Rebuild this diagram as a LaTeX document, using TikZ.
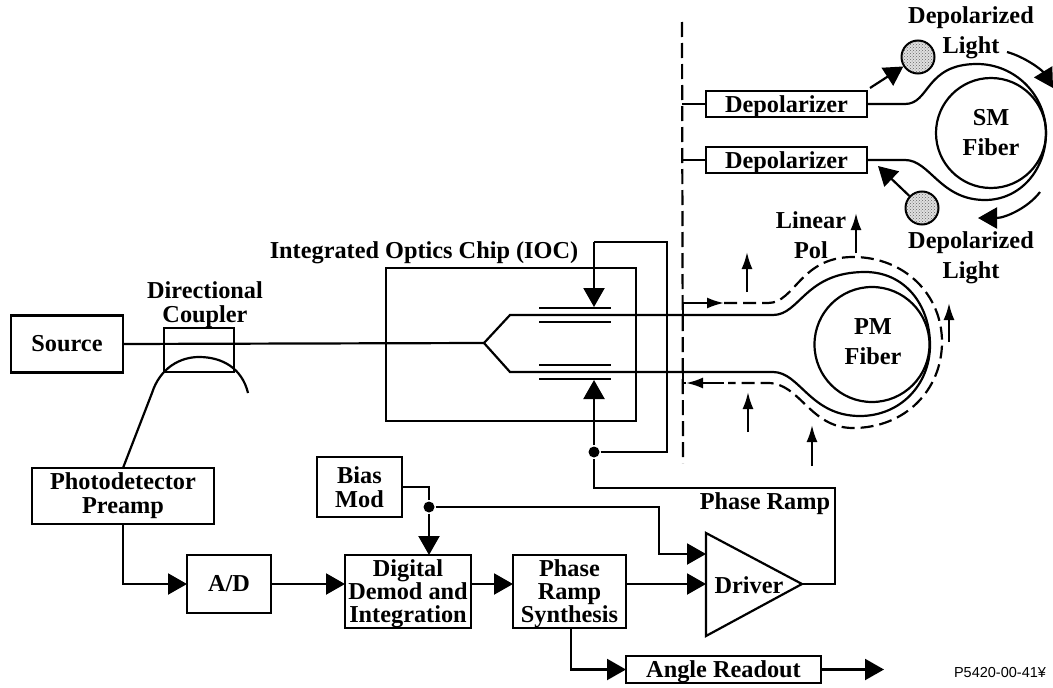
\documentclass[tikz,border=0pt]{standalone}
\usepackage{fontspec}
\setmainfont{Liberation Serif}
\newfontfamily\tagfont{Liberation Sans}
\usetikzlibrary{arrows.meta,patterns}
\begin{document}
\begin{tikzpicture}[
    x=1pt, y=-1pt,
    line width=2.2pt,
    every node/.style={font=\fontsize{24.3}{24}\selectfont\bfseries, align=center, inner sep=0pt},
    blockbox/.style={draw, rectangle, outer sep=0pt},
    slimbox/.style={blockbox, text depth=0pt},
    tightlab/.style={font=\fontsize{24.3}{23}\selectfont\bfseries},
    dot/.style={circle, fill=black, inner sep=0pt, minimum size=11pt},
    ball/.style={circle, draw, line width=2pt, inner sep=0pt, minimum size=33pt,
      preaction={fill=gray!25}, pattern=crosshatch dots, pattern color=black!60},
    bigtip/.style={-{Triangle[length=19pt,width=21pt]}},
    smalltip/.style={-{Latex[length=17pt,width=11pt]}},
    polline/.style={dash pattern=on 13pt off 6pt}]
  \useasboundingbox (0,0) rectangle (1053,688);
  % blocks
  \node[blockbox, minimum width=112pt, minimum height=57pt] (source) at (67,344) {Source};
  \node[blockbox, minimum width=70pt, minimum height=44pt] (coupler) at (199,350) {};
  \node[blockbox, minimum width=182pt, minimum height=56pt] (photo) at (123,496) {Photodetector\\Preamp};
  \node[blockbox, minimum width=84pt, minimum height=58pt] (ad) at (229,584) {A/D};
  \node[blockbox, minimum width=85pt, minimum height=60pt] (bias) at (359.5,487) {Bias\\Mod};
  \node[blockbox, minimum width=126pt, minimum height=73pt] (demod) at (408,591.5) {};
  \node[tightlab] at (408,594) {Digital\\Demod and\\Integration};
  \node[blockbox, minimum width=113pt, minimum height=73pt] (synth) at (569.5,591.5) {};
  \node[tightlab] at (569.5,594) {Phase\\Ramp\\Synthesis};
  \node[slimbox, minimum width=195pt, minimum height=27pt] (angle) at (723.5,669.5) {Angle Readout};
  \node[slimbox, minimum width=161pt, minimum height=26pt] (depA) at (786.5,104) {Depolarizer};
  \node[slimbox, minimum width=161pt, minimum height=26pt] (depB) at (786.5,160) {Depolarizer};
  \node[blockbox, minimum width=250pt, minimum height=153pt] (ioc) at (511,344.5) {};
  % labels
  \node (ioclab) at (424,253) {Integrated Optics Chip (IOC)};
  \node (couplab) at (205,305) {Directional\\Coupler};
  \node (ramplab) at (765,504) {Phase Ramp};
  \node (drvlab) at (749,585) {Driver};
  \node (smlab) at (991,133) {SM\\[6pt]Fiber};
  \node (pmlab) at (873,342) {PM\\[6pt]Fiber};
  \node (pollab) at (811,235) {Linear\\[6pt]Pol};
  \node (lightA) at (971,33) {Depolarized\\[6pt]Light};
  \node (lightB) at (971,258) {Depolarized\\[6pt]Light};
  \node[font=\fontsize{14.5}{15}\tagfont] (tag) at (1000,673) {P5420-00-41¥};
  % driver triangle
  \coordinate (drvA) at (706,533);
  \coordinate (drvB) at (706,636);
  \coordinate (drvC) at (802,584);
  \draw[line join=miter] (drvA) -- (drvC) -- (drvB) -- cycle;
  % fiber coils
  \node[circle, draw, minimum size=110pt] (smcoil) at (991,133) {};
  \node[circle, draw, minimum size=115pt] (pmcoil) at (872,344.5) {};
  \node[ball] (ballA) at (918,57) {};
  \node[ball] (ballB) at (922,208) {};
  % reference plane
  \draw[dash pattern=on 15pt off 6pt] (682,22) -- (683,463);
  % optical path
  \coordinate (split) at (484,343);
  \draw (source.east) -- (split);
  \draw (split) -- (510,315) -- (773,315)
    .. controls (800,315) and (805,272) .. (865,272)
    .. controls (905,272) and (930,305) .. (930,345);
  \draw (split) -- (510,372) -- (773,372)
    .. controls (800,372) and (810,416) .. (860,416)
    .. controls (900,416) and (930,385) .. (930,345);
  \draw (photo.north) -- (152,393)
    .. controls (160,368) and (180,357) .. (199,357)
    .. controls (222,357) and (242,368) .. (248,393);
  \draw (depA.east) -- (905,104)
    .. controls (930,104) and (925,64) .. (977,64)
    .. controls (1015,64) and (1046,95) .. (1046,133);
  \draw (depB.east) -- (905,160)
    .. controls (930,160) and (940,200) .. (985,200)
    .. controls (1020,200) and (1046,170) .. (1046,133);
  \draw (682,104) -- (depA.west);
  \draw (682,160) -- (depB.west);
  % electrodes
  \foreach \ey in {308,322,365,379}
    \draw (539,\ey) -- (611,\ey);
  % linear polarization path
  \draw[smalltip] (683,314) |- (724,303);
  \draw[polline] (724,303) -- (768,303)
    .. controls (795,303) and (800,257) .. (853,257)
    .. controls (905,257) and (942,295) .. (942,342)
    .. controls (942,390) and (905,428) .. (853,428)
    .. controls (810,428) and (800,383) .. (768,383) -- (728,383);
  \draw[smalltip] (724,383) -- (686,383);
  \draw (686,383) -| (683,373);
  % polarization arrows
  \draw[smalltip] (747,292) -- (747,252);
  \draw[smalltip] (856,253) -- (856,213);
  \draw[smalltip] (949,342) -- (949,303);
  \draw[smalltip] (748,432) -- (748,392);
  \draw[smalltip] (812,466) -- (812,425);
  % depolarized light arrows
  \draw[bigtip] (870,88) -- (ballA);
  \draw[bigtip] (ballB) -- (878,166);
  \draw[bigtip] (1007,52) .. controls (1025,57) and (1042,70) .. (1053,88);
  \draw[bigtip] (1040,192) .. controls (1028,208) and (1005,218) .. (978,218);
  % modulator drive
  \node[dot] (rampjoin) at (594,452) {};
  \coordinate (rampcorner) at (594,488);
  \coordinate (rampend) at (835,488);
  \coordinate (modtop) at (594,242);
  \draw (drvC) -- (835,584) -- (rampend) -- (rampcorner) -- (rampjoin);
  \draw[bigtip] (rampjoin) -- (594,380);
  \draw (rampjoin) -- (667,452) -- (667,242) -- (modtop);
  \draw[bigtip] (modtop) -- (594,307);
  % signal chain
  \node[dot] (biasjoin) at (429,507) {};
  \draw[bigtip] (photo.south) |- (ad.west);
  \draw[bigtip] (ad.east) -- (demod.west |- ad.east);
  \draw[bigtip] (demod.east |- ad.east) -- (synth.west |- ad.east);
  \draw[bigtip] (synth.east |- ad.east) -- (drvA |- ad.east);
  \draw (bias.east) -| (biasjoin);
  \draw[bigtip] (biasjoin) -- (demod.north -| biasjoin);
  \draw[bigtip] (biasjoin) -| (659,554) -- (706,554);
  \draw[bigtip] (571,628) |- (angle.west);
  \draw[bigtip] (angle.east) -- (884,669.5);
\end{tikzpicture}
\end{document}
